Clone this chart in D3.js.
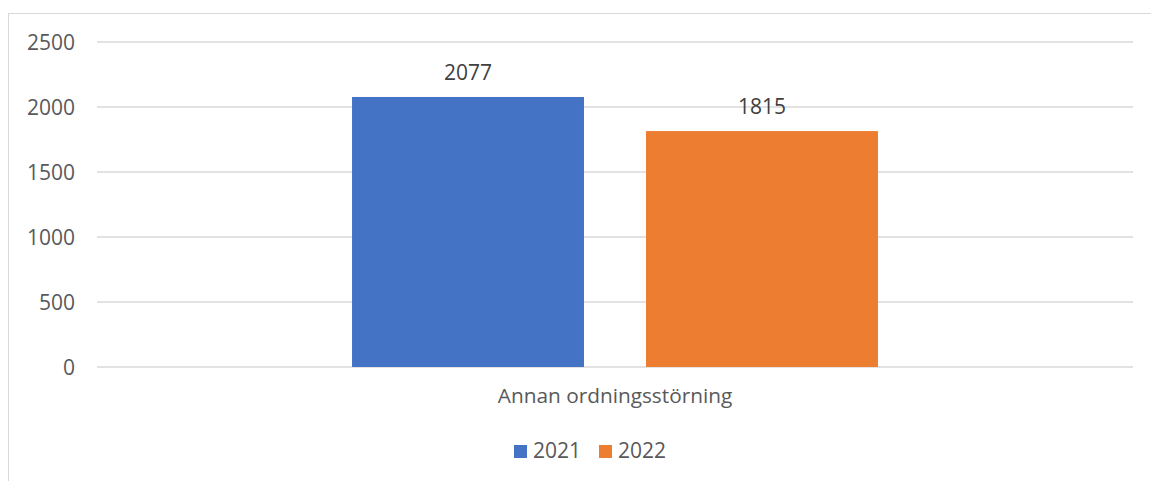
<!DOCTYPE html>
<html>
<head>
<meta charset="utf-8">
<script src="https://cdn.jsdelivr.net/npm/d3@7"></script>
<style>
  body { margin: 0; background: #fff; }
  text { font-family: "Open Sans", "Noto Sans", sans-serif; }
</style>
</head>
<body>
<svg id="chart" width="1151" height="481"></svg>
<script>
"use strict";

const categories = ["Annan ordningsstörning"];
const years = ["2021", "2022"];
const values2021 = [2077];
const values2022 = [1815];
const yTicks = [0, 500, 1000, 1500, 2000, 2500];
const colors = ["#4472c4", "#ed7d31"];

const series = [
  { name: years[0], values: values2021, color: colors[0] },
  { name: years[1], values: values2022, color: colors[1] },
];

let svg = d3.select("#chart");

// outer chart border (runs past the right and bottom edges)
svg.append("rect")
  .attr("x", 8.5)
  .attr("y", 13.5)
  .attr("width", 1160)
  .attr("height", 490)
  .attr("fill", "#fff")
  .attr("stroke", "#d9d9d9")
  .attr("stroke-width", 1);

let y = d3.scaleLinear()
  .domain([0, 2500])
  .range([367, 42]);

let x = d3.scaleBand()
  .domain(categories)
  .range([97, 1133]);

let x1 = d3.scaleBand()
  .domain(years)
  .range([0, x.bandwidth()])
  .paddingInner(0.211)
  .paddingOuter(0.8675);

// gridlines
svg.append("g")
  .selectAll("line")
  .data(yTicks)
  .join("line")
  .attr("x1", 97)
  .attr("x2", 1133)
  .attr("y1", d => y(d))
  .attr("y2", d => y(d))
  .attr("stroke", "#d9d9d9")
  .attr("stroke-width", 1.5);

// y axis labels
let yAxis = svg.append("g")
  .attr("transform", "translate(75,0)")
  .call(d3.axisLeft(y).tickValues(yTicks).tickFormat(d3.format("d")).tickSize(0).tickPadding(0));
yAxis.select(".domain").remove();
yAxis.selectAll("text")
  .attr("font-family", "Open Sans, sans-serif")
  .attr("font-size", 21)
  .attr("fill", "#595959")
  .attr("dy", "0.36em");

// bars
categories.forEach(function(cat, ci) {
  let g = svg.append("g")
    .attr("transform", "translate(" + x(cat) + ",0)");

  g.selectAll("rect")
    .data(series)
    .join("rect")
    .attr("x", d => x1(d.name))
    .attr("y", d => y(d.values[ci]))
    .attr("width", x1.bandwidth())
    .attr("height", d => y(0) - y(d.values[ci]))
    .attr("fill", d => d.color);

  g.selectAll("text")
    .data(series)
    .join("text")
    .attr("x", d => x1(d.name) + x1.bandwidth() / 2)
    .attr("y", d => y(d.values[ci]) - 17)
    .attr("text-anchor", "middle")
    .attr("font-size", 21)
    .attr("fill", "#404040")
    .text(d => d.values[ci]);
});

// category label
let xAxis = svg.append("g")
  .attr("transform", "translate(0,367)")
  .call(d3.axisBottom(x).tickSize(0).tickPadding(0));
xAxis.select(".domain").remove();
xAxis.selectAll("text")
  .attr("font-family", "Open Sans, sans-serif")
  .attr("font-size", 20.8)
  .attr("fill", "#595959")
  .attr("dy", 0)
  .attr("y", 36);

// legend
let legend = svg.append("g")
  .attr("transform", "translate(514,445)");

let item = legend.selectAll("g")
  .data(series)
  .join("g")
  .attr("transform", (d, i) => "translate(" + i * 85 + ",0)");

item.append("rect")
  .attr("width", 13)
  .attr("height", 13)
  .attr("fill", d => d.color);

item.append("text")
  .attr("x", 19)
  .attr("y", 13)
  .attr("font-size", 21)
  .attr("fill", "#595959")
  .text(d => d.name);
</script>
</body>
</html>
